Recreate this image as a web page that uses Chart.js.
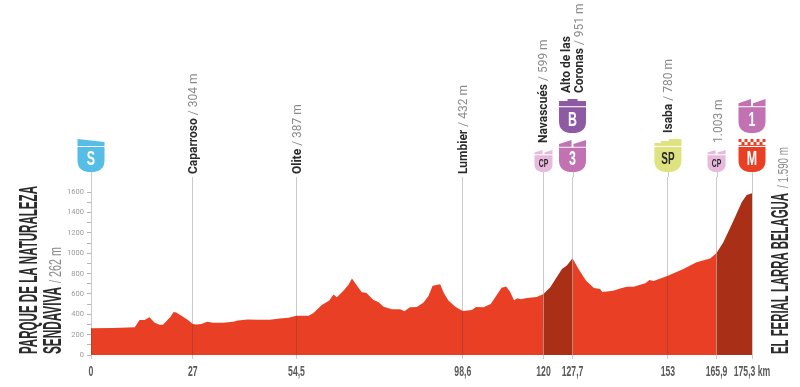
<!DOCTYPE html>
<html>
<head>
<meta charset="utf-8">
<style>
  html, body { margin: 0; padding: 0; background: #fff; }
  #wrap { width: 800px; height: 387px; }
</style>
<script src="https://cdn.jsdelivr.net/npm/chart.js@4/dist/chart.umd.min.js"></script>
</head>
<body>
<div id="wrap"><canvas id="profile" width="800" height="387"></canvas></div>
<script>
'use strict';

// profile, km and metres
const km = [0, 5.8, 11.6, 12.9, 14.2, 15.5, 16.9, 18.2, 19.1, 20.4, 21, 21.9, 22.6, 24.4, 25.7, 27, 27.9, 29.3, 30.8, 32.4, 35, 37.7, 38.9, 41.6, 44.2, 47.4, 50.1, 52.4, 54.5, 57.7, 59, 61.2, 63.2, 64.3, 65.2, 67, 68.3, 69.2, 70.7, 71.8, 73, 74.9, 76.2, 77.6, 79.8, 82, 83.1, 84.6, 86.4, 88.2, 89.5, 90.6, 92.6, 93.6, 94.8, 96.6, 98.6, 101, 102.1, 104.1, 106, 107.6, 108.9, 110.1, 111.1, 112.2, 113.1, 114, 115.6, 118.2, 120, 121.8, 123.5, 124.9, 126.2, 127.7, 129.3, 131.3, 133.4, 135, 135.6, 138.5, 140.1, 142.1, 143.9, 147, 148.1, 149.2, 153, 157.1, 160.6, 164.2, 165.9, 167.7, 170.4, 172.6, 173.9, 175.3];
const elevation = [262, 265, 272, 344, 344, 370, 317, 298, 298, 350, 370, 423, 419, 377, 344, 304, 301, 304, 327, 317, 317, 327, 340, 350, 347, 347, 360, 367, 387, 386, 413, 492, 535, 594, 568, 634, 690, 752, 673, 617, 611, 541, 522, 475, 449, 449, 429, 469, 472, 515, 581, 680, 696, 607, 535, 475, 432, 442, 472, 469, 502, 591, 660, 673, 624, 538, 558, 548, 560, 570, 599, 665, 764, 846, 879, 951, 846, 731, 658, 649, 619, 632, 652, 672, 672, 705, 737, 728, 780, 846, 912, 948, 1003, 1109, 1323, 1505, 1574, 1590];

const xTicks = [0, 27, 54.5, 98.6, 120, 127.7, 153, 165.9, 175.3];
const yTicks = [0, 100, 200, 300, 400, 500, 600, 700, 800, 900, 1000, 1100, 1200, 1300, 1400, 1500, 1600];
const steepFrom = [120, 165.9];
const steepTo = [127.7, 175.3];

const placeKm = [27, 54.5, 98.6, 120, 153];
const placeNames = ['Caparroso', 'Olite', 'Lumbier', 'Navascués', 'Isaba'];
const placeHeights = ['304 m', '387 m', '432 m', '599 m', '780 m'];
const shieldKm = [0, 120, 127.7, 153, 165.9, 175.3];

const RED = '#e83f25';
const DARK = '#a93016';
const INK = '#2b2b2b';
const GREY = '#8a8a8a';
const SANS = '"Liberation Sans"';

function isSteep(x) {
  for (let i = 0; i < steepFrom.length; i++) {
    if (x >= steepFrom[i] && x < steepTo[i]) return true;
  }
  return false;
}

function xLabel(v) {
  return String(v).replace('.', ',') + (v === 175.3 ? ' km' : '');
}

// text turned 90deg, reading upwards, squeezed to a given length when asked
function upText(ctx, text, x, y, font, color, len) {
  ctx.save();
  ctx.font = font;
  ctx.fillStyle = color;
  ctx.textAlign = 'left';
  ctx.textBaseline = 'alphabetic';
  ctx.translate(x, y);
  ctx.rotate(-Math.PI / 2);
  if (len) ctx.scale(len / ctx.measureText(text).width, 1);
  ctx.fillText(text, 0, 0);
  ctx.restore();
}

function nameAndHeight(ctx, name, height, x, y) {
  const bold = 'bold 12px Roboto';
  upText(ctx, name, x, y, bold, INK);
  ctx.font = bold;
  const w = ctx.measureText(name + ' ').width;
  upText(ctx, '/ ' + height, x, y - w, '12px Roboto', GREY);
}

// shield body, the top goes in as a separate little shape per kind
function badge(ctx, cx, top, bottom, w, color, letter, kind) {
  const l = cx - w / 2, r = cx + w / 2;
  const bodyTop = top + (bottom - top) * 0.24;
  ctx.save();
  ctx.fillStyle = color;
  ctx.beginPath();
  ctx.moveTo(l, bodyTop);
  ctx.lineTo(r, bodyTop);
  ctx.lineTo(r, bottom - w * 0.42);
  ctx.bezierCurveTo(r, bottom - w * 0.12, cx + w * 0.28, bottom, cx, bottom);
  ctx.bezierCurveTo(cx - w * 0.28, bottom, l, bottom - w * 0.12, l, bottom - w * 0.42);
  ctx.closePath();
  ctx.fill();

  const capBottom = bodyTop - 1;
  if (kind === 'tabs') {
    const h = capBottom - top, m = cx;
    ctx.beginPath();
    ctx.moveTo(l, capBottom); ctx.lineTo(l, top + h * 0.6); ctx.lineTo(m - 1, top); ctx.lineTo(m - 1, capBottom);
    ctx.closePath();
    ctx.moveTo(m + 1, capBottom); ctx.lineTo(m + 1, top + h * 0.6); ctx.lineTo(r, top); ctx.lineTo(r, capBottom);
    ctx.closePath();
    ctx.fill();
  } else if (kind === 'flat') {
    ctx.fillRect(l, top + 2, w, capBottom - top - 2);
    ctx.fillRect(cx - 5, top, 10, 3);
  } else if (kind === 'stack') {
    ctx.fillRect(l, top + 4, w, capBottom - top - 4);
    ctx.fillRect(cx - 7, top + 2, w / 2 + 7, 2);
    ctx.fillRect(cx + 1, top, w / 2 - 1, 2);
  } else if (kind === 'flag') {
    ctx.beginPath();
    ctx.moveTo(l, top); ctx.lineTo(r, top + 3); ctx.lineTo(r, capBottom); ctx.lineTo(l, capBottom);
    ctx.closePath();
    ctx.fill();
  } else if (kind === 'check') {
    const s = 3;
    for (let row = 0; row < 2; row++) {
      for (let c = 0; c * s < w; c++) {
        if ((row + c) % 2 === 0) ctx.fillRect(l + c * s, top + row * s, s, s);
      }
    }
    ctx.fillRect(l, top + 2 * s, w, capBottom - top - 2 * s);
  }

  const size = letter === 'CP' ? 11 : letter === 'SP' ? 16 : 20;
  ctx.fillStyle = kind === 'stack' || letter === 'CP' ? '#2a2a2a' : '#fff';
  ctx.font = 'bold ' + size + 'px ' + SANS;
  ctx.textAlign = 'center';
  ctx.textBaseline = 'middle';
  ctx.translate(cx, bodyTop + (bottom - bodyTop) * 0.46);
  ctx.scale(0.62, 1);
  ctx.fillText(letter, 0, 1);
  ctx.restore();
}

const stageDecor = {
  id: 'stageDecor',
  afterDraw(chart) {
    const ctx = chart.ctx;
    const x = chart.scales.x;

    // km labels are narrower than any installed face, so they get squeezed here
    ctx.save();
    ctx.font = 'bold 14px ' + SANS;
    ctx.fillStyle = '#5a5a5a';
    ctx.textAlign = 'center';
    ctx.textBaseline = 'middle';
    xTicks.forEach(v => {
      ctx.save();
      ctx.translate(x.getPixelForValue(v), 372);
      ctx.scale(0.62, 1);
      ctx.fillText(xLabel(v), 0, 0);
      ctx.restore();
    });
    ctx.restore();

    // grid lines stop at the chart top, the shields sit a little higher
    ctx.save();
    ctx.strokeStyle = 'rgba(70,60,60,0.28)';
    ctx.lineWidth = 1;
    shieldKm.forEach(k => {
      const px = Math.round(x.getPixelForValue(k)) + 0.5;
      ctx.beginPath();
      ctx.moveTo(px, chart.chartArea.top - 5);
      ctx.lineTo(px, chart.chartArea.top);
      ctx.stroke();
    });
    ctx.restore();

    // start and finish titles
    const title = 'bold 25px ' + SANS;
    upText(ctx, 'PARQUE DE LA NATURALEZA', 37, 354, title, INK, 168);
    upText(ctx, 'SENDAVIVA', 61, 354, title, INK, 67);
    upText(ctx, '/ 262 m', 61, 283, '17px ' + SANS, GREY, 36);
    upText(ctx, 'EL FERIAL LARRA BELAGUA', 788, 354, 'bold 23px ' + SANS, INK, 161);
    upText(ctx, '/ 1.590 m', 788, 188, '15px ' + SANS, GREY, 41);

    // places along the route
    const labelBottom = [174, 174, 174, 143, 133];
    placeKm.forEach((k, i) => {
      nameAndHeight(ctx, placeNames[i], placeHeights[i], x.getPixelForValue(k) + 4, labelBottom[i]);
    });
    const corona = x.getPixelForValue(127.7);
    upText(ctx, 'Alto de las', corona - 2.5, 93, 'bold 12px Roboto', INK);
    nameAndHeight(ctx, 'Coronas', '951 m', corona + 10.5, 93);
    upText(ctx, '1.003 m', x.getPixelForValue(165.9) + 5, 143, '12px Roboto', GREY);

    // climb and sprint shields
    badge(ctx, x.getPixelForValue(0), 139, 172, 27, '#55bde6', 'S', 'flag');
    badge(ctx, x.getPixelForValue(120), 150, 172, 18, '#e7b9dd', 'CP', 'tabs');
    badge(ctx, corona, 99, 133, 27, '#8d5aa3', 'B', 'flat');
    badge(ctx, corona, 140, 172, 27, '#c272b2', '3', 'tabs');
    badge(ctx, x.getPixelForValue(153), 139, 172, 27, '#dfe37f', 'SP', 'stack');
    badge(ctx, x.getPixelForValue(165.9), 150, 172, 18, '#e7b9dd', 'CP', 'tabs');
    badge(ctx, x.getPixelForValue(175.3), 99, 133, 27, '#c272b2', '1', 'tabs');
    badge(ctx, x.getPixelForValue(175.3), 139, 172, 27, RED, 'M', 'check');
  }
};

new Chart(document.getElementById('profile'), {
  type: 'line',
  plugins: [stageDecor],
  data: {
    datasets: [{
      data: km.map((k, i) => ({ x: k, y: elevation[i] })),
      borderWidth: 0,
      pointRadius: 0,
      tension: 0,
      fill: 'origin',
      backgroundColor: RED,
      segment: {
        backgroundColor: c => isSteep(c.p0.parsed.x) ? DARK : RED
      }
    }]
  },
  options: {
    responsive: false,
    animation: false,
    layout: { padding: { top: 177, right: 48, left: 0, bottom: 0 } },
    plugins: { legend: { display: false }, tooltip: { enabled: false } },
    scales: {
      x: {
        type: 'linear',
        min: 0,
        max: 175.3,
        afterBuildTicks: s => { s.ticks = xTicks.map(v => ({ value: v })); },
        afterFit: s => { s.height = 32; },
        border: { display: false },
        grid: { z: 1, color: 'rgba(70,60,60,0.28)', lineWidth: 1, drawTicks: true, tickLength: 4 },
        ticks: { display: false }
      },
      y: {
        min: 0,
        max: 1750,
        afterBuildTicks: s => { s.ticks = yTicks.map(v => ({ value: v })); },
        afterFit: s => { s.width = 91; },
        border: { display: false },
        grid: { drawOnChartArea: false, color: '#b5b5b5', tickLength: 4 },
        ticks: {
          autoSkip: false,
          padding: 3,
          color: '#9a9a9a',
          font: { family: 'Roboto', size: 7.5 },
          callback: v => v % 200 === 0 ? v : ''
        }
      }
    }
  }
});
</script>
</body>
</html>
